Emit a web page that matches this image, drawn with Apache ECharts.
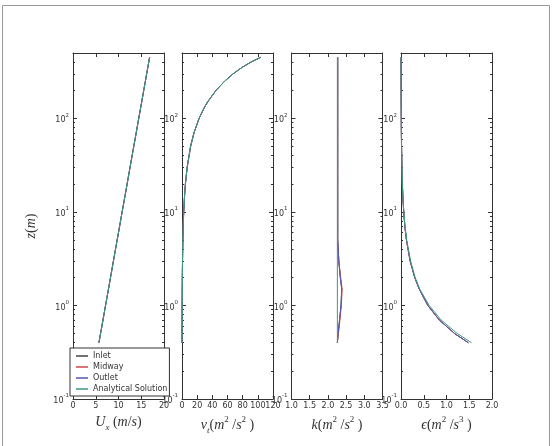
<!DOCTYPE html>
<html><head><meta charset="utf-8">
<script src="https://cdn.jsdelivr.net/npm/echarts@6/dist/echarts.min.js"></script>
<style>html,body{margin:0;padding:0;background:#fff}#c{width:556px;height:446px}</style>
</head><body><div id="c"></div>
<script>
// ---- data ----
const zVals      = [0.4, 0.5, 0.7, 1, 1.5, 2, 3, 5, 7, 10, 15, 20, 30, 50, 70, 100, 130, 150, 200, 250, 300, 350, 400, 450];
const uxInlet    = [5.70, 6.05, 6.59, 7.15, 7.80, 8.25, 8.89, 9.70, 10.24, 10.80, 11.45, 11.90, 12.54, 13.35, 13.89, 14.45, 14.87, 15.10, 15.55, 15.91, 16.19, 16.44, 16.65, 16.84];
const uxMidway   = [5.70, 6.05, 6.59, 7.15, 7.80, 8.25, 8.89, 9.70, 10.24, 10.80, 11.45, 11.90, 12.54, 13.35, 13.89, 14.45, 14.87, 15.10, 15.55, 15.91, 16.19, 16.44, 16.65, 16.84];
const uxOutlet   = [5.70, 6.05, 6.59, 7.15, 7.80, 8.25, 8.89, 9.70, 10.24, 10.80, 11.45, 11.90, 12.54, 13.35, 13.89, 14.45, 14.87, 15.10, 15.55, 15.91, 16.19, 16.44, 16.65, 16.84];
const uxAnalytic = [5.72, 6.07, 6.60, 7.16, 7.80, 8.26, 8.90, 9.70, 10.24, 10.80, 11.45, 11.90, 12.54, 13.35, 13.89, 14.45, 14.87, 15.10, 15.55, 15.91, 16.19, 16.44, 16.65, 16.84];
const nutInlet    = [0.09, 0.11, 0.16, 0.23, 0.34, 0.45, 0.68, 1.13, 1.58, 2.25, 3.4, 4.5, 6.8, 11.3, 15.8, 22.5, 29.3, 33.8, 45.0, 56.3, 67.5, 79.0, 91.0, 104.0];
const nutMidway   = [0.09, 0.11, 0.16, 0.23, 0.34, 0.45, 0.68, 1.13, 1.58, 2.25, 3.4, 4.5, 6.8, 11.3, 15.8, 22.5, 29.3, 33.8, 45.0, 56.3, 67.5, 79.0, 91.0, 104.0];
const nutOutlet   = [0.09, 0.11, 0.16, 0.23, 0.34, 0.45, 0.68, 1.13, 1.58, 2.25, 3.4, 4.5, 6.8, 11.3, 15.8, 22.5, 29.3, 33.8, 45.0, 56.3, 67.5, 79.0, 91.0, 104.0];
const nutAnalytic = [0.09, 0.11, 0.16, 0.23, 0.34, 0.45, 0.68, 1.13, 1.58, 2.25, 3.4, 4.5, 6.8, 11.3, 15.8, 22.5, 29.3, 33.8, 45.0, 56.3, 67.5, 79.0, 91.0, 104.0];
const kInlet    = [2.26, 2.28, 2.32, 2.36, 2.38, 2.34, 2.30, 2.27, 2.27, 2.27, 2.27, 2.27, 2.27, 2.27, 2.27, 2.27, 2.27, 2.27, 2.27, 2.27, 2.27, 2.27, 2.27, 2.27];
const kMidway   = [2.26, 2.29, 2.33, 2.37, 2.39, 2.35, 2.30, 2.27, 2.27, 2.27, 2.27, 2.27, 2.27, 2.27, 2.27, 2.27, 2.27, 2.27, 2.27, 2.27, 2.27, 2.27, 2.27, 2.27];
const kOutlet   = [2.26, 2.28, 2.32, 2.36, 2.38, 2.34, 2.30, 2.27, 2.27, 2.27, 2.27, 2.27, 2.27, 2.27, 2.27, 2.27, 2.27, 2.27, 2.27, 2.27, 2.27, 2.27, 2.27, 2.27];
const kAnalytic = [2.26, 2.26, 2.26, 2.26, 2.26, 2.26, 2.26, 2.26, 2.26, 2.26, 2.26, 2.26, 2.26, 2.26, 2.26, 2.26, 2.26, 2.26, 2.26, 2.26, 2.26, 2.26, 2.26, 2.26];
const epsInlet    = [1.48, 1.18, 0.84, 0.59, 0.40, 0.30, 0.20, 0.12, 0.085, 0.06, 0.04, 0.03, 0.02, 0.012, 0.0085, 0.006, 0.0046, 0.004, 0.003, 0.0024, 0.002, 0.0017, 0.0015, 0.0013];
const epsMidway   = [1.48, 1.18, 0.84, 0.59, 0.40, 0.30, 0.20, 0.12, 0.085, 0.06, 0.04, 0.03, 0.02, 0.012, 0.0085, 0.006, 0.0046, 0.004, 0.003, 0.0024, 0.002, 0.0017, 0.0015, 0.0013];
const epsOutlet   = [1.48, 1.18, 0.84, 0.59, 0.40, 0.30, 0.20, 0.12, 0.085, 0.06, 0.04, 0.03, 0.02, 0.012, 0.0085, 0.006, 0.0046, 0.004, 0.003, 0.0024, 0.002, 0.0017, 0.0015, 0.0013];
const epsAnalytic = [1.55, 1.24, 0.88, 0.62, 0.41, 0.31, 0.21, 0.124, 0.088, 0.062, 0.041, 0.031, 0.021, 0.0124, 0.0088, 0.0062, 0.0048, 0.0041, 0.0031, 0.0025, 0.0021, 0.0018, 0.0016, 0.0014];
const seriesNames = ['Inlet', 'Midway', 'Outlet', 'Analytical Solution'];
const seriesColors = ['#444444', '#d04848', '#5555b8', '#3c9a78'];
const majorZ = [0.1, 1, 10, 100];
const minorZ = [0.2,0.3,0.4,0.5,0.6,0.7,0.8,0.9, 2,3,4,5,6,7,8,9, 20,30,40,50,60,70,80,90, 200,300,400,500];
const xRanges = [[0, 20, 5], [0, 120, 20], [1.0, 3.5, 0.5], [0.0, 2.0, 0.5]];
const xDecimals = [0, 0, 1, 1];

const panels = [
  [uxInlet, uxMidway, uxOutlet, uxAnalytic],
  [nutInlet, nutMidway, nutOutlet, nutAnalytic],
  [kInlet, kMidway, kOutlet, kAnalytic],
  [epsInlet, epsMidway, epsOutlet, epsAnalytic]
];

const mathFont = 'Liberation Serif';
const nameRich = {
  i: {fontFamily: mathFont, fontStyle: 'italic', fontSize: 14, color: '#333', lineHeight: 20, verticalAlign: 'middle'},
  n: {fontFamily: mathFont, fontSize: 14, color: '#333', lineHeight: 20, verticalAlign: 'middle'},
  sup: {fontFamily: mathFont, fontSize: 9, color: '#333', lineHeight: 20, verticalAlign: 'top'},
  sub: {fontFamily: mathFont, fontStyle: 'italic', fontSize: 9, color: '#333', lineHeight: 14, verticalAlign: 'bottom'}
};
const xNames = [
  '{i|U}{sub|x}{n| (}{i|m}{n|/}{i|s}{n|)}',
  '{i|ν}{sub|t}{n|(}{i|m}{sup|2}{n| /}{i|s}{sup|2}{n| )}',
  '{i|k}{n|(}{i|m}{sup|2}{n| /}{i|s}{sup|2}{n| )}',
  '{i|ϵ}{n|(}{i|m}{sup|2}{n| /}{i|s}{sup|3}{n| )}'
];
const lefts = [73, 182, 291.5, 401];
const gridTop = 53, gridH = 346, gridW = 91;
const axisColor = '#333';
const tickLabelStyle = {color: '#333', fontSize: 8, fontFamily: 'DejaVu Sans'};

const grids = [], xAxes = [], yAxes = [], series = [];
lefts.forEach((l, i) => {
  grids.push({left: l, top: gridTop, width: gridW, height: gridH});
  const [mn, mx, iv] = xRanges[i];
  const baseX = {
    gridIndex: i, type: 'value', min: mn, max: mx, interval: iv,
    splitLine: {show: false},
    axisLine: {show: true, onZero: false, lineStyle: {color: axisColor, width: 1}},
    axisTick: {show: true, inside: true, length: 4, lineStyle: {color: axisColor}}
  };
  xAxes.push(Object.assign({}, baseX, {
    position: 'bottom',
    axisLabel: Object.assign({margin: 3, showMinLabel: true, showMaxLabel: true, hideOverlap: false,
      formatter: v => v.toFixed(xDecimals[i])}, tickLabelStyle),
    name: xNames[i], nameLocation: 'middle', nameGap: 11,
    nameTextStyle: {rich: nameRich}
  }));
  xAxes.push(Object.assign({}, baseX, {position: 'top', axisLabel: {show: false}}));
  const baseY = {
    gridIndex: i, type: 'log', logBase: 10, min: 0.1, max: 500,
    splitLine: {show: false}, minorTick: {show: false}, minorSplitLine: {show: false}
  };
  const yLab = {
    customValues: majorZ, margin: 4,
    formatter: v => '{b|10}{s|' + Math.round(Math.log10(v)) + '}',
    rich: {
      b: {color: '#333', fontSize: 8, fontFamily: 'DejaVu Sans', lineHeight: 12, verticalAlign: 'bottom'},
      s: {color: '#333', fontSize: 5.5, fontFamily: 'DejaVu Sans', lineHeight: 12, verticalAlign: 'top'}
    }
  };
  ['left', 'right'].forEach(pos => {
    yAxes.push(Object.assign({}, baseY, {
      position: pos,
      axisLine: {show: true, onZero: false, lineStyle: {color: axisColor, width: 1}},
      axisTick: {show: true, inside: true, length: 4, customValues: majorZ, lineStyle: {color: axisColor}},
      axisLabel: pos === 'left' ? yLab : {show: false},
      name: (pos === 'left' && i === 0) ? '{i|z}{n|(}{i|m}{n|)}' : '',
      nameLocation: 'middle', nameGap: 32, nameRotate: 90,
      nameTextStyle: {rich: nameRich}
    }));
    yAxes.push(Object.assign({}, baseY, {
      position: pos,
      axisLine: {show: false, onZero: false},
      axisTick: {show: true, inside: true, length: 2, customValues: minorZ, lineStyle: {color: axisColor}},
      axisLabel: {show: false}
    }));
  });
  panels[i].forEach((arr, s) => {
    series.push({
      type: 'line', name: seriesNames[s], xAxisIndex: 2 * i, yAxisIndex: 4 * i,
      data: arr.map((v, k) => [v, zVals[k]]),
      showSymbol: false, symbol: 'none', smooth: false,
      lineStyle: {width: 1, color: seriesColors[s]},
      itemStyle: {color: seriesColors[s]},
      z: 2 + s
    });
  });
});

const chart = echarts.init(document.getElementById('c'), null, {renderer: 'canvas'});
chart.setOption({
  animation: false,
  backgroundColor: '#fff',
  color: seriesColors,
  grid: grids, xAxis: xAxes, yAxis: yAxes, series: series,
  legend: {
    data: seriesNames.map(n => ({name: n, icon: 'rect'})),
    orient: 'vertical', left: 70, top: 348,
    itemWidth: 12, itemHeight: 1.5, itemGap: 3,
    padding: [4, 2, 3, 6],
    backgroundColor: '#fff', borderColor: '#333', borderWidth: 1,
    textStyle: {fontSize: 8, fontFamily: 'DejaVu Sans', color: '#333', lineHeight: 8},
    z: 10
  },
  graphic: [{
    type: 'rect', silent: true, z: -1,
    shape: {x: 2.5, y: 5.5, width: 547, height: 460},
    style: {fill: 'none', stroke: '#999', lineWidth: 1}
  }]
});
</script></body></html>
